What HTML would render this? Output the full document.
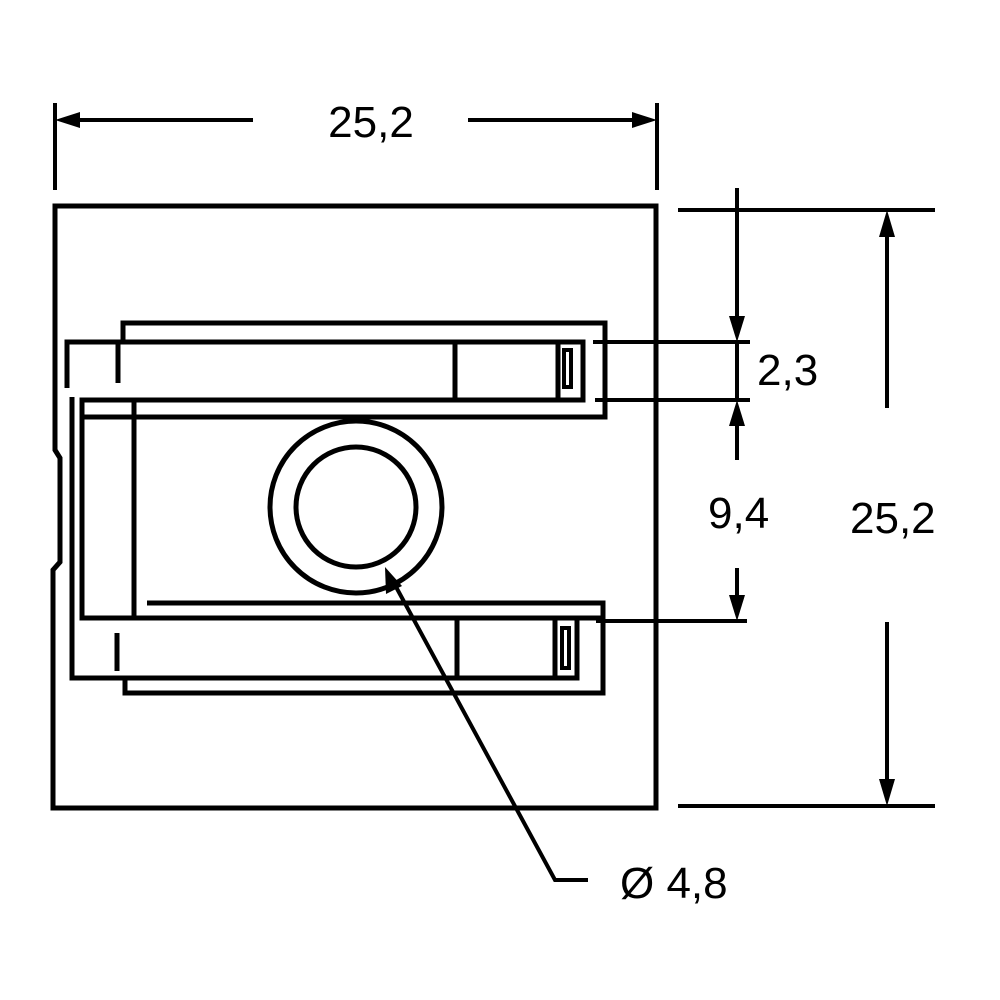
<!DOCTYPE html>
<html><head><meta charset="utf-8"><style>html,body{margin:0;padding:0;background:#fff}svg{display:block}text{font-family:"Liberation Sans",Arial,sans-serif;font-size:44px;fill:#000}</style></head>
<body>
<svg width="1000" height="1000" viewBox="0 0 1000 1000" xmlns="http://www.w3.org/2000/svg">
<g fill="none" stroke="#000" stroke-width="5" stroke-linecap="butt" stroke-linejoin="miter">
<!-- outer box with notch -->
<path d="M55,450 L55,206 L656,206 L656,808 L53,808 L53,570 L60,562 L60,458 Z"/>
<!-- top outer bracket -->
<path d="M123,340 L123,323 L605,323 L605,417 L82,417"/>
<!-- top inner rect -->
<path d="M67,388 L67,342 L583,342 L583,400 L82,400 L82,618 L603,618"/>
<path d="M118,342 L118,383"/>
<path d="M455,342 L455,400"/>
<path d="M558,342 L558,400"/>
<rect x="564" y="350" width="7" height="37" stroke-width="4"/>
<!-- left channel -->
<path d="M134,400 L134,618"/>
<!-- bottom -->
<path d="M147,603 L603,603 L603,693 L125,693 L125,678"/>
<path d="M72,397 L72,678 L577,678 L577,618"/>
<path d="M117,633 L117,671"/>
<path d="M457,618 L457,678"/>
<path d="M555,618 L555,678"/>
<rect x="562" y="628" width="7" height="40" stroke-width="4"/>
<!-- circle -->
<circle cx="356" cy="507" r="86"/>
<circle cx="356" cy="507" r="60"/>
</g>
<g fill="none" stroke="#000" stroke-width="4">
<!-- top dimension -->
<path d="M55,103 V190 M657,103 V190 M70,120 H253 M468,120 H642"/>
<!-- right dims -->
<path d="M678,210 H935 M678,806 H935 M887,235 V408 M887,622 V781"/>
<path d="M593,342 H750 M595,400 H750 M596,621 H747"/>
<path d="M737,188 V322 M737,342 V400 M737,420 V460 M737,568 V600"/>
<!-- leader -->
<path d="M395,585 L555,880 H588"/>
</g>
<g fill="#000" stroke="none">
<polygon points="55,120 80,112 80,128"/>
<polygon points="657,120 632,112 632,128"/>
<polygon points="887,210 879,237 895,237"/>
<polygon points="887,806 879,779 895,779"/>
<polygon points="737,342 729,316 745,316"/>
<polygon points="737,400 729,426 745,426"/>
<polygon points="737,621 729,595 745,595"/>
<polygon points="385,567 386,594 402,586"/>
</g>
<text x="371" y="137" text-anchor="middle">25,2</text>
<text x="757" y="385">2,3</text>
<text x="708" y="528">9,4</text>
<text x="850" y="533">25,2</text>
<text x="620" y="898">Ø 4,8</text>
</svg>
</body></html>
